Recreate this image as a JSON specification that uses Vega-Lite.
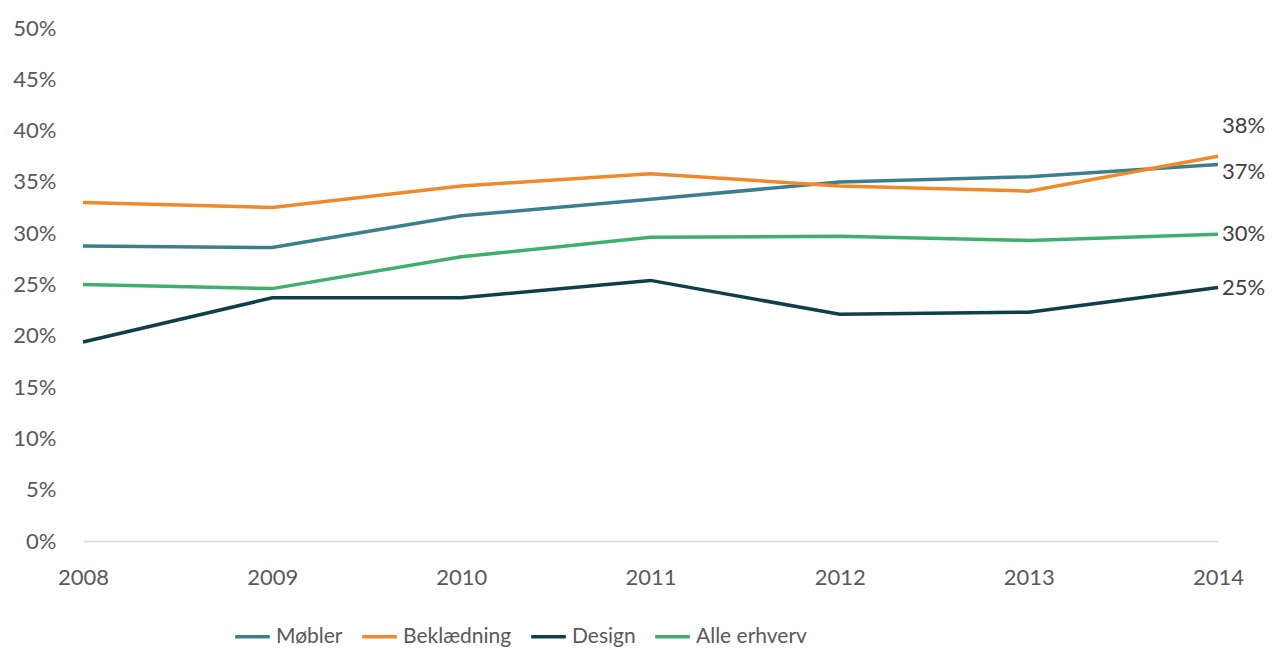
{
  "$schema": "https://vega.github.io/schema/vega-lite/v6.json",
  "width": 1135,
  "height": 513,
  "autosize": {"type": "none"},
  "padding": {"left": 83, "top": 28, "right": 60, "bottom": 109},
  "background": "white",
  "config": {
    "view": {"stroke": null},
    "font": "Lato",
    "text": {"font": "Lato"}
  },
  "data": {
    "values": [
      {"year": "2008", "serie": "Møbler", "v": 0.2875},
      {"year": "2009", "serie": "Møbler", "v": 0.286},
      {"year": "2010", "serie": "Møbler", "v": 0.317},
      {"year": "2011", "serie": "Møbler", "v": 0.333},
      {"year": "2012", "serie": "Møbler", "v": 0.350},
      {"year": "2013", "serie": "Møbler", "v": 0.355},
      {"year": "2014", "serie": "Møbler", "v": 0.367},
      {"year": "2008", "serie": "Beklædning", "v": 0.330},
      {"year": "2009", "serie": "Beklædning", "v": 0.325},
      {"year": "2010", "serie": "Beklædning", "v": 0.346},
      {"year": "2011", "serie": "Beklædning", "v": 0.358},
      {"year": "2012", "serie": "Beklædning", "v": 0.346},
      {"year": "2013", "serie": "Beklædning", "v": 0.341},
      {"year": "2014", "serie": "Beklædning", "v": 0.375},
      {"year": "2008", "serie": "Design", "v": 0.194},
      {"year": "2009", "serie": "Design", "v": 0.237},
      {"year": "2010", "serie": "Design", "v": 0.237},
      {"year": "2011", "serie": "Design", "v": 0.254},
      {"year": "2012", "serie": "Design", "v": 0.221},
      {"year": "2013", "serie": "Design", "v": 0.223},
      {"year": "2014", "serie": "Design", "v": 0.247},
      {"year": "2008", "serie": "Alle erhverv", "v": 0.250},
      {"year": "2009", "serie": "Alle erhverv", "v": 0.246},
      {"year": "2010", "serie": "Alle erhverv", "v": 0.277},
      {"year": "2011", "serie": "Alle erhverv", "v": 0.296},
      {"year": "2012", "serie": "Alle erhverv", "v": 0.297},
      {"year": "2013", "serie": "Alle erhverv", "v": 0.293},
      {"year": "2014", "serie": "Alle erhverv", "v": 0.299}
    ]
  },
  "encoding": {
    "x": {
      "field": "year", "type": "ordinal",
      "scale": {"type": "point", "padding": 0},
      "axis": {
        "title": null, "labelAngle": 0, "labelFontSize": 22, "labelColor": "#595959",
        "labelFont": "Lato", "ticks": false, "domainColor": "#d9d9d9", "domainWidth": 1.5,
        "labelPadding": 26
      }
    },
    "y": {
      "field": "v", "type": "quantitative",
      "scale": {"domain": [0, 0.5]},
      "axis": {
        "title": null, "format": ".0%", "values": [0, 0.05, 0.1, 0.15, 0.2, 0.25, 0.3, 0.35, 0.4, 0.45, 0.5],
        "grid": false, "domain": false, "ticks": false, "labelFontSize": 22, "labelColor": "#595959",
        "labelFont": "Lato", "labelPadding": 27
      }
    }
  },
  "layer": [
    {
      "mark": {"type": "line", "strokeWidth": 3.5},
      "encoding": {
        "color": {
          "field": "serie", "type": "nominal",
          "scale": {
            "domain": ["Møbler", "Beklædning", "Design", "Alle erhverv"],
            "range": ["#3b7f8e", "#f0892a", "#0e3f4b", "#3fae6e"]
          },
          "legend": {
            "title": null, "orient": "none", "legendX": 150, "legendY": 589, "direction": "horizontal",
            "symbolType": "stroke", "symbolStrokeWidth": 3.5, "symbolSize": 1200,
            "labelFontSize": 21, "labelColor": "#595959", "labelFont": "Lato",
            "columnPadding": 12, "labelOffset": 4
          }
        }
      }
    },
    {
      "transform": [{"filter": "datum.year == '2014' && (datum.serie == 'Design' || datum.serie == 'Alle erhverv')"}],
      "mark": {"type": "text", "align": "left", "dx": 4, "fontSize": 22, "color": "#404040", "font": "Lato"},
      "encoding": {"text": {"field": "v", "type": "quantitative", "format": ".0%"}}
    },
    {
      "transform": [{"filter": "datum.year == '2014' && datum.serie == 'Møbler'"}],
      "mark": {"type": "text", "align": "left", "dx": 4, "dy": 8, "fontSize": 22, "color": "#404040", "font": "Lato"},
      "encoding": {"text": {"field": "v", "type": "quantitative", "format": ".0%"}}
    },
    {
      "transform": [{"filter": "datum.year == '2014' && datum.serie == 'Beklædning'"}],
      "mark": {"type": "text", "align": "left", "dx": 4, "dy": -30, "fontSize": 22, "color": "#404040", "font": "Lato"},
      "encoding": {"text": {"field": "v", "type": "quantitative", "format": ".0%"}}
    }
  ]
}
